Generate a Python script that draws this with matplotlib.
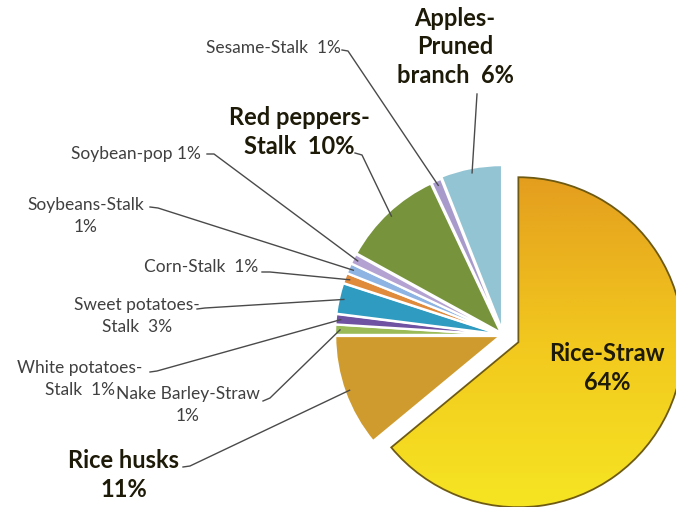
import numpy as np
import matplotlib.pyplot as plt
from matplotlib.colors import LinearSegmentedColormap

plt.rcParams['font.family'] = ['Lato', 'DejaVu Sans']

# residue share of agricultural by-products (%)
names = ['Rice-Straw', 'Rice husks', 'Nake Barley-Straw', 'White potatoes-Stalk',
         'Sweet potatoes-Stalk', 'Corn-Stalk', 'Soybeans-Stalk', 'Soybean-pop',
         'Red peppers-Stalk', 'Sesame-Stalk', 'Apples-Pruned branch']
values = [64, 11, 1, 1, 3, 1, 1, 1, 10, 1, 6]
colors = ['#EDB91F', '#CF9B2F', '#9BBB59', '#7052A3', '#2F9BC0', '#E08A3C',
          '#8EB4E3', '#B3A2D2', '#77933C', '#A89BCC', '#93C4D4']

# label text templates (value filled in below)
label_fmt = ['Rice-Straw\n{}%', 'Rice husks\n{}%', 'Nake Barley-Straw\n{}%',
             'White potatoes-\nStalk  {}%', 'Sweet potatoes-\nStalk  {}%',
             'Corn-Stalk  {}%', 'Soybeans-Stalk\n{}%', 'Soybean-pop {}%',
             'Red peppers-\nStalk  {}%', 'Sesame-Stalk  {}%',
             'Apples-\nPruned\nbranch  {}%']
bold = [True, True, False, False, False, False, False, False, True, False, True]

W, H = 676, 507
fig = plt.figure(figsize=(W / 100, H / 100), dpi=100)
ax = fig.add_axes([0, 0, 1, 1])

# pie explode is in data units here (1 unit = 1 px)
cx, cy, R = 503, H - 335, 165
explode = [17, 3, 3, 3, 3, 3, 3, 3, 3, 3, 5]

wedges, _ = ax.pie(values, startangle=90, counterclock=False, colors=colors,
                   explode=explode, center=(cx, cy), radius=R, frame=True,
                   wedgeprops=dict(edgecolor='white', linewidth=1.6))

# golden gradient on the big slice
rice = wedges[0]
rice.set_edgecolor('#6E5A12')
rice.set_linewidth(1.3)
cmap = LinearSegmentedColormap.from_list('gold', ['#E49E1E', '#F2C81E', '#F6E522'])
grad = np.linspace(0, 1, 256).reshape(-1, 1)
gx, gy = rice.center
img = ax.imshow(grad, cmap=cmap, aspect='auto', origin='upper',
                extent=(gx - R, gx + R, gy - R, gy + R), zorder=rice.get_zorder() - 0.1)
img.set_clip_path(rice)
rice.set_facecolor('none')
rice.set_zorder(rice.get_zorder() + 0.2)


def anchor(w, frac=0.97):
    a = np.deg2rad((w.theta1 + w.theta2) / 2)
    x0, y0 = w.center
    return x0 + w.r * frac * np.cos(a), y0 + w.r * frac * np.sin(a)


BIG, SMALL = 17, 12.5
# label placement: text centre (pixels from top-left), size, leader start
layout = [
    dict(xy=(607, 368), size=BIG, lead=None),
    dict(xy=(124, 475), size=BIG, lead=[(183, 467), (190, 466)]),
    dict(xy=(188, 405), size=SMALL, lead=[(263, 401), (270, 398)]),
    dict(xy=(80, 379), size=SMALL, lead=[(150, 372), (157, 371)]),
    dict(xy=(137, 316), size=SMALL, lead=[(197, 309), (205, 308)]),
    dict(xy=(201, 267), size=SMALL, lead=[(262, 272), (270, 272)]),
    dict(xy=(86, 216), size=SMALL, lead=[(150, 207), (158, 208)]),
    dict(xy=(136, 154), size=SMALL, lead=[(207, 154), (214, 154)]),
    dict(xy=(299, 132), size=BIG, lead=[(355, 153), (362, 155)]),
    dict(xy=(273, 48), size=SMALL, lead=[(342, 50), (348, 51)]),
    dict(xy=(455, 47), size=BIG, lead=[(477, 94)]),
]

for w, fmt, v, b, lay in zip(wedges, label_fmt, values, bold, layout):
    x, y = lay['xy']
    ax.text(x, H - y, fmt.format(v), ha='center', va='center', fontsize=lay['size'],
            fontweight='bold' if b else 'normal',
            color='#1E1A08' if b else '#404040',
            linespacing=1.3 if b else 1.5, zorder=5)
    if lay['lead']:
        px, py = anchor(w)
        pts = [(lx, H - ly) for lx, ly in lay['lead']] + [(px, py)]
        xs, ys = zip(*pts)
        ax.plot(xs, ys, color='#4A4A4A', linewidth=1.0, zorder=4)

ax.set_xlim(0, W)
ax.set_ylim(0, H)
ax.set_aspect('equal')
ax.axis('off')

fig.savefig('out.png', dpi=100, facecolor='white')
